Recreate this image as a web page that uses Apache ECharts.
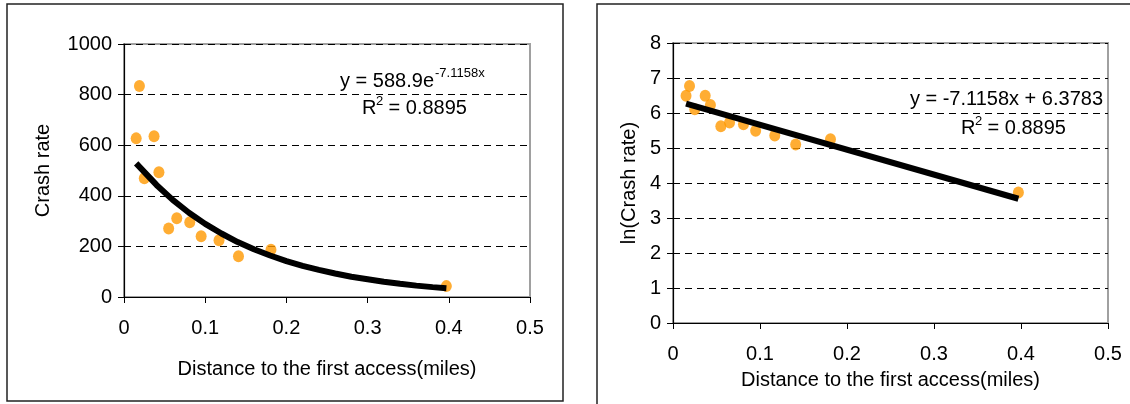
<!DOCTYPE html>
<html>
<head>
<meta charset="utf-8">
<script src="https://cdn.jsdelivr.net/npm/echarts@6/dist/echarts.min.js"></script>
<style>
html,body{margin:0;padding:0;background:#fff;}
#c{width:1130px;height:404px;}
</style>
</head>
<body>
<div id="c"></div>
<script>
// Data
var distance = [0.015, 0.019, 0.025, 0.037, 0.043, 0.055, 0.065, 0.081, 0.095, 0.117, 0.141, 0.181, 0.397];
var crashRate = [627, 834, 469, 635, 493, 271, 311, 295, 240, 224, 161, 187, 43];
var lnCrashRate = [6.49, 6.77, 6.11, 6.49, 6.23, 5.62, 5.73, 5.68, 5.49, 5.36, 5.10, 5.25, 3.73];
// exponential trendline as drawn (left panel)
var trendX = [0.015, 0.04, 0.06, 0.08, 0.10, 0.12, 0.14, 0.16, 0.18, 0.20, 0.22, 0.24, 0.26, 0.28, 0.30, 0.32, 0.34, 0.36, 0.38, 0.397];
var trendY = [528, 443, 384, 333, 289, 251, 217, 189, 164, 142, 123, 107, 93, 80, 70, 60, 52, 45, 39, 35];
// linear trendline as drawn (right panel)
var lineX = [0.015, 0.397];
var lineY = [6.27, 3.55];
var eqLeft = 'y = 588.9e', eqLeftSup = '-7.1158x';
var eqRight = 'y = -7.1158x + 6.3783';
var r2Text = ' = 0.8895';
var xName = 'Distance to the first access(miles)';
var yNameLeft = 'Crash rate';
var yNameRight = 'ln(Crash rate)';

var FONT = '"Liberation Sans", Arial, sans-serif';
var FS = 20;

function pairs(xs, ys){ return xs.map(function(x,i){ return [x, ys[i]]; }); }

function xAxisCfg(gi, nameGap, labelMargin){
  return {
    type:'value', gridIndex:gi, min:0, max:0.5, interval:0.1,
    name: xName, nameLocation:'middle', nameGap:nameGap,
    nameTextStyle:{fontFamily:FONT, fontSize:FS, color:'#000'},
    axisLine:{show:true, onZero:false, lineStyle:{color:'#000', width:1.2}},
    axisTick:{show:true, inside:false, length:6, lineStyle:{color:'#000'}},
    axisLabel:{fontFamily:FONT, fontSize:FS, color:'#000', margin:labelMargin,
      formatter:function(v){ return String(Math.round(v*10)/10); }},
    splitLine:{show:false}
  };
}
function yAxisCfg(gi, max, interval, name, nameGap){
  return {
    type:'value', gridIndex:gi, min:0, max:max, interval:interval,
    name:name, nameLocation:'middle', nameGap:nameGap,
    nameTextStyle:{fontFamily:FONT, fontSize:FS, color:'#000'},
    axisLine:{show:true, lineStyle:{color:'#000', width:1.2}},
    axisTick:{show:true, inside:false, length:6, lineStyle:{color:'#000'}},
    axisLabel:{fontFamily:FONT, fontSize:FS, color:'#000', margin:12,
      formatter:function(v){ return String(v); }},
    splitLine:{show:true, lineStyle:{color:'#000', type:[7,5], width:1}}
  };
}

var chart = echarts.init(document.getElementById('c'), null, {renderer:'canvas'});
chart.setOption({
  animation:false,
  backgroundColor:'#fff',
  grid:[
    {left:124, top:44, width:406, height:253, show:true, borderColor:'#a0a0a0', borderWidth:2, backgroundColor:'transparent'},
    {left:673, top:43, width:435, height:280, show:true, borderColor:'#a0a0a0', borderWidth:2, backgroundColor:'transparent'}
  ],
  xAxis:[ xAxisCfg(0, 62, 21), xAxisCfg(1, 47, 21) ],
  yAxis:[ yAxisCfg(0, 1000, 200, yNameLeft, 71), yAxisCfg(1, 8, 1, yNameRight, 34) ],
  series:[
    {type:'scatter', xAxisIndex:0, yAxisIndex:0, data:pairs(distance, crashRate),
      symbol:'circle', symbolSize:[11,12], itemStyle:{color:'#FF9900'}, z:2},
    {type:'line', xAxisIndex:0, yAxisIndex:0, data:pairs(trendX, trendY), showSymbol:false, smooth:false,
      lineStyle:{color:'#000', width:6}, z:3},
    {type:'scatter', xAxisIndex:1, yAxisIndex:1, data:pairs(distance, lnCrashRate),
      symbol:'circle', symbolSize:[11,12], itemStyle:{color:'#FF9900'}, z:2},
    {type:'line', xAxisIndex:1, yAxisIndex:1, data:pairs(lineX, lineY), showSymbol:false,
      lineStyle:{color:'#000', width:6}, z:3}
  ],
  graphic:[
    {type:'rect', shape:{x:7, y:4, width:556, height:397}, style:{fill:'none', stroke:'#222', lineWidth:1.5}, silent:true, z:-1},
    {type:'rect', shape:{x:597, y:4, width:600, height:420}, style:{fill:'none', stroke:'#222', lineWidth:1.5}, silent:true, z:-1},
    // left equation
    {type:'text', x:434, y:81, style:{text:eqLeft, font:FS+'px '+FONT, fill:'#000', align:'right', verticalAlign:'middle'}, z:10},
    {type:'text', x:435, y:73, style:{text:eqLeftSup, font:'13px '+FONT, fill:'#000', align:'left', verticalAlign:'middle'}, z:10},
    {type:'text', x:362, y:108, style:{text:'R', font:FS+'px '+FONT, fill:'#000', align:'left', verticalAlign:'middle'}, z:10},
    {type:'text', x:376, y:101, style:{text:'2', font:'13px '+FONT, fill:'#000', align:'left', verticalAlign:'middle'}, z:10},
    {type:'text', x:383, y:108, style:{text:r2Text, font:FS+'px '+FONT, fill:'#000', align:'left', verticalAlign:'middle'}, z:10},
    // right equation
    {type:'text', x:1103, y:99, style:{text:eqRight, font:FS+'px '+FONT, fill:'#000', align:'right', verticalAlign:'middle'}, z:10},
    {type:'text', x:961, y:128, style:{text:'R', font:FS+'px '+FONT, fill:'#000', align:'left', verticalAlign:'middle'}, z:10},
    {type:'text', x:975, y:121, style:{text:'2', font:'13px '+FONT, fill:'#000', align:'left', verticalAlign:'middle'}, z:10},
    {type:'text', x:982, y:128, style:{text:r2Text, font:FS+'px '+FONT, fill:'#000', align:'left', verticalAlign:'middle'}, z:10}
  ]
});
</script>
</body>
</html>
